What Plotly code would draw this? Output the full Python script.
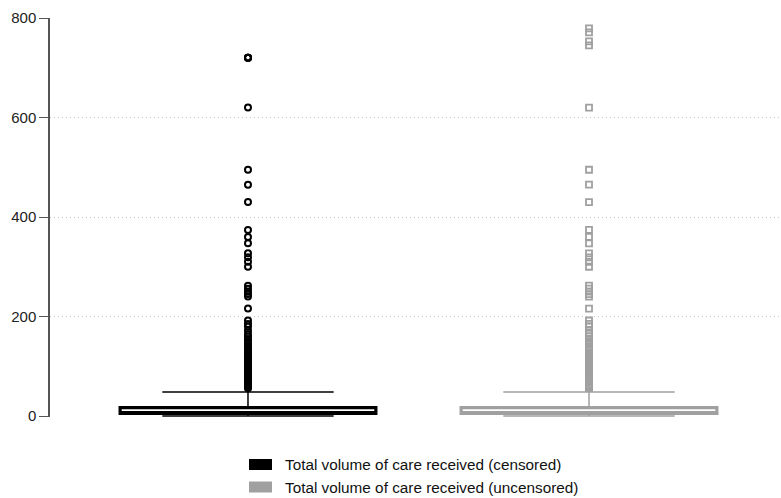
import plotly.graph_objects as go

# Group positions and labels
groups = ["Total volume of care received (censored)",
          "Total volume of care received (uncensored)"]
positions = [0, 1]
colors = ["#000000", "#A0A0A0"]

# Box summary statistics per group
q1 = [5, 5]
median = [7, 7]
q3 = [17, 17]
lower_whisker = [0, 0]
upper_whisker = [48, 48]

# Observations beyond the upper whisker
outliers_censored = [
    720, 720, 720, 720, 620, 495, 465, 430, 374, 360, 347, 327, 319, 310, 300,
    262, 256, 250, 245, 240, 216, 192, 185, 180, 172, 165, 160, 155, 150, 145,
    140, 136, 132, 128, 125, 122, 118, 115, 112, 108, 105, 102, 100, 97, 94,
    91, 88, 85, 82, 79, 76, 73, 70, 67, 64, 62, 60, 58, 56,
]
outliers_uncensored = [
    779, 771, 753, 745, 620, 495, 465, 430, 374, 360, 347, 327, 319, 310, 300,
    262, 256, 250, 245, 240, 216, 192, 185, 180, 172, 165, 160, 155, 150, 145,
    140, 136, 132, 128, 125, 122, 118, 115, 112, 108, 105, 102, 100, 97, 94,
    91, 88, 85, 82, 79, 76, 73, 70, 67, 64, 62, 60, 58, 56,
]
outliers = [outliers_censored, outliers_uncensored]
symbols = ["circle-open", "square-open"]

y_ticks = [0, 200, 400, 600, 800]

fig = go.Figure()

for i in range(2):
    # Whiskers and caps (thin)
    fig.add_trace(go.Box(
        x=[positions[i]], q1=[q1[i]], median=[median[i]], q3=[q3[i]],
        lowerfence=[lower_whisker[i]], upperfence=[upper_whisker[i]],
        width=0.75, whiskerwidth=0.67,
        line=dict(color=colors[i], width=1.5),
        fillcolor="rgba(0,0,0,0)", showlegend=False, hoverinfo="skip",
    ))
    # Box outline and median (heavy)
    fig.add_trace(go.Box(
        x=[positions[i]], q1=[q1[i]], median=[median[i]], q3=[q3[i]],
        lowerfence=[q1[i]], upperfence=[q3[i]],
        width=0.75, whiskerwidth=0,
        line=dict(color=colors[i], width=3.2),
        fillcolor="rgba(0,0,0,0)", showlegend=False, hoverinfo="skip",
    ))
    # Outside values
    fig.add_trace(go.Scatter(
        x=[positions[i]] * len(outliers[i]), y=outliers[i], mode="markers",
        marker=dict(symbol=symbols[i], size=6, color=colors[i],
                    line=dict(color=colors[i], width=2 if i == 0 else 1.8)),
        showlegend=False, cliponaxis=False,
    ))

# Plot area geometry (pixels) used to place the key below the axes
W, H = 781, 498
ml, mr, mt, mb = 50, 0, 18, 81
pw, ph = W - ml - mr, H - mt - mb


def px_x(px):
    return (px - ml) / pw


def px_y(py):
    return (H - mb - py) / ph


shapes = []
annotations = []
key_rows = [(459, 470), (481.5, 492.5)]
for i, (top, bot) in enumerate(key_rows):
    shapes.append(dict(
        type="rect", xref="paper", yref="paper",
        x0=px_x(249), x1=px_x(272), y0=px_y(bot), y1=px_y(top),
        fillcolor=colors[i], line=dict(width=0), layer="above",
    ))
    annotations.append(dict(
        xref="paper", yref="paper", x=px_x(283), y=px_y((top + bot) / 2),
        xanchor="left", yanchor="middle", text=groups[i], showarrow=False,
        font=dict(family="Liberation Sans, Arial, sans-serif", size=15.3,
                  color="#111111"),
    ))

fig.update_layout(
    width=W, height=H,
    margin=dict(l=ml, r=mr, t=mt, b=mb, pad=0),
    paper_bgcolor="white", plot_bgcolor="white",
    boxmode="overlay",
    showlegend=False,
    shapes=shapes,
    annotations=annotations,
    font=dict(family="Liberation Sans, Arial, sans-serif", size=15,
              color="#222222"),
    xaxis=dict(
        range=[-0.5806, 1.563], showticklabels=False, showgrid=False,
        zeroline=False, showline=False, ticks="", fixedrange=True,
    ),
    yaxis=dict(
        range=[-2, 800], tickvals=y_ticks, ticktext=[str(v) for v in y_ticks],
        showgrid=True, gridcolor="#C8C8C8", gridwidth=1, griddash="1px,3px",
        zeroline=False, showline=True, linecolor="#555555", linewidth=1.5,
        ticks="outside", ticklen=9, tickcolor="#555555", tickwidth=1,
        tickfont=dict(size=15, color="#222222"),
    ),
)

fig.write_html("out.html")
